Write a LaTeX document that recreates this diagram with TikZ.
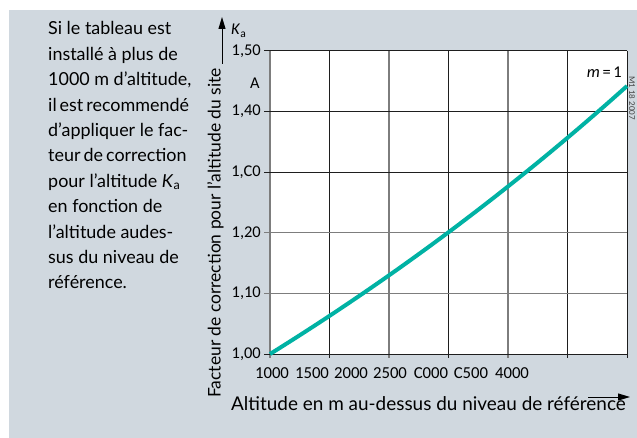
\documentclass[tikz,border=0pt]{standalone}
\usepackage{fontspec}
\setmainfont{Lato}
\newfontfamily\calib{Carlito}
\usetikzlibrary{arrows.meta}
\definecolor{bgpanel}{RGB}{208,216,223}
\definecolor{curveteal}{RGB}{0,178,164}
\definecolor{gridgray}{RGB}{125,125,125}
\definecolor{gridblack}{RGB}{30,30,30}
\begin{document}
\begin{tikzpicture}[x=1bp,y=-1bp,
  gridb/.style={draw=gridblack,line width=1bp},
  gridg/.style={draw=gridgray,line width=1.3bp},
  ticklab/.style={font=\calib\fontsize{16.5}{18}\selectfont,inner sep=0pt},
  xticklab/.style={font=\calib\fontsize{16.8}{18}\selectfont,inner sep=0pt,anchor=center},
  bodyline/.style={font=\fontsize{18}{22}\selectfont,inner sep=0pt,anchor=base west},
  curve/.style={draw=curveteal,line width=4bp},
  axarrow/.style={draw=black,line width=1bp,-{Triangle[length=12bp,width=7bp]}}
]
\useasboundingbox (0,0) rectangle (637,438);
\fill[white] (0,0) rectangle (637,438);
\fill[bgpanel] (9,10) rectangle (637,438);
% plot area
\fill[white] (270,51) rectangle (627,354);
% grid: vertical
\draw[gridg] (270,51) -- (270,358);
\draw[gridb] (329,51) -- (329,358);
\draw[gridg] (389,51) -- (389,358);
\draw[gridb] (448,51) -- (448,358);
\draw[gridg] (508,51) -- (508,358);
\draw[gridb] (567,51) -- (567,358);
\draw[gridb] (627,51) -- (627,358);
% grid: horizontal
\draw[gridb] (264,51) -- (627,51);
\draw[gridb] (264,111.6) -- (627,111.6);
\draw[gridb] (264,172.2) -- (627,172.2);
\draw[gridg] (264,232.8) -- (627,232.8);
\draw[gridg] (264,293.4) -- (627,293.4);
\draw[gridb] (264,354) -- (627,354);
% curve
\draw[curve] plot[domain=0:357,samples=80,smooth] (\x+270,{354-(exp(\x/357*3000*0.0001225)-1)*606});
% y tick labels
\node[ticklab,anchor=east] (y150) at (261,51) {1,50};
\node[ticklab,anchor=center] (ya) at (255,83) {A};
\node[ticklab,anchor=east] (y140) at (261,111.6) {1,40};
\node[ticklab,anchor=east] (y130) at (261,172.2) {1,C0};
\node[ticklab,anchor=east] (y120) at (261,232.8) {1,20};
\node[ticklab,anchor=east] (y110) at (261,293.4) {1,10};
\node[ticklab,anchor=east] (y100) at (261,354) {1,00};
% x tick labels
\node[xticklab] (x1000) at (272,373) {1000};
\node[xticklab] (x1500) at (312,373) {1500};
\node[xticklab] (x2000) at (351,373) {2000};
\node[xticklab] (x2500) at (390,373) {2500};
\node[xticklab] (x3000) at (431,373) {C000};
\node[xticklab] (x3500) at (471,373) {C500};
\node[xticklab] (x4000) at (512,373) {4000};
% curve label
\node[ticklab,anchor=east] (mlab) at (622,72) {\textit{m}\,=\,1};
% y axis arrow and label
\coordinate (yarrowfoot) at (222,64);
\coordinate (yarrowtip) at (222,17);
\draw[axarrow] (yarrowfoot) -- (yarrowtip);
\node[ticklab,anchor=west] (ka) at (231,31) {\textit{K}\textsubscript{a}};
\node[font=\fontsize{17.5}{20}\selectfont,inner sep=0pt,rotate=90] (ylabel) at (215.5,233) {Facteur de correction pour l’altitude du site};
% x axis label and arrow
\node[font=\fontsize{19}{22}\selectfont,inner sep=0pt,anchor=west] (xlabel) at (231,404) {Altitude en m au-dessus du niveau de référence};
\coordinate (xarrowfoot) at (588,397);
\coordinate (xarrowtip) at (630,397);
\draw[axarrow] (xarrowfoot) -- (xarrowtip);
% side code
\node[font=\fontsize{8}{9}\selectfont,rotate=-90,inner sep=0pt,text=black!75] (code) at (632,98) {M1 18 2007};
% explanatory text
\node[bodyline] (body1) at (48,35) {Si le tableau est};
\node[bodyline] (body2) at (48,60.4) {installé à plus de};
\node[bodyline] (body3) at (48,85.8) {1000 m d’altitude,};
\node[bodyline] (body4) at (48,111.2) {\spaceskip=3bp il est recommendé};
\node[bodyline] (body5) at (48,136.6) {d’appliquer le fac-};
\node[bodyline] (body6) at (48,162) {\spaceskip=3bp teur de correction};
\node[bodyline] (body7) at (48,187.4) {pour l’altitude \textit{K}\textsubscript{a}};
\node[bodyline] (body8) at (48,212.8) {en fonction de};
\node[bodyline] (body9) at (48,238.2) {l’altitude audes-};
\node[bodyline] (body10) at (48,263.6) {sus du niveau de};
\node[bodyline] (body11) at (48,289) {référence.};
\end{tikzpicture}
\end{document}
